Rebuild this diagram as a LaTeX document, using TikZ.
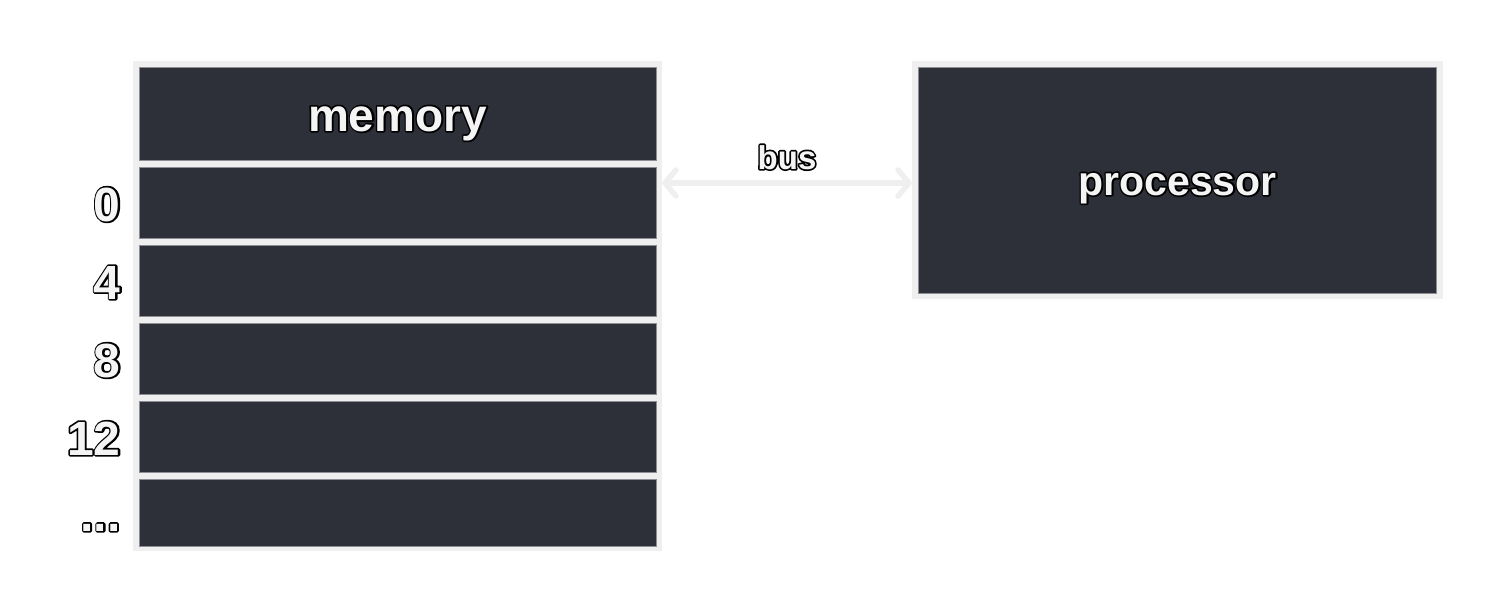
\documentclass[tikz,border=0pt]{standalone}
\usepackage{fontspec}
\setmainfont{Liberation Sans}
\usetikzlibrary{arrows.meta}
\definecolor{cellc}{HTML}{2D3039}
\definecolor{edgec}{HTML}{EFEFEF}
\definecolor{txtc}{HTML}{F4F4F4}
\definecolor{rimc}{HTML}{8C8E94}
\newcommand{\otext}[1]{\rlap{\special{pdf:code q 1 Tr 3.4 w 1 j 0 0 0 RG}#1\special{pdf:code Q}}\textcolor{txtc}{#1}}
\tikzset{
  framebox/.style={fill=edgec, draw=none, inner sep=0pt},
  cellbox/.style={fill=cellc, draw=rimc, line width=0.6pt, inner sep=0pt, minimum width=517pt},
  bigtext/.style={anchor=base, inner sep=0pt},
  addrlabel/.style={anchor=base east, inner sep=0pt, font=\fontsize{48}{50}\selectfont\bfseries},
  busline/.style={draw=edgec, line width=5.5pt, line cap=round, {Straight Barb[length=11pt,width=26pt,round]}-{Straight Barb[length=11pt,width=26pt,round]}}
}
\begin{document}
\begin{tikzpicture}[x=1pt,y=-1pt]
\useasboundingbox (0,0) rectangle (1504,614);
% memory frame
\node[framebox, minimum width=529pt, minimum height=490pt] (memframe) at (397.5,306) {};
\node[cellbox, minimum height=93pt] (head) at (397.5,113.5) {};
\node[cellbox, minimum height=71pt] (row1) at (397.5,202.5) {};
\node[cellbox, minimum height=71pt] (row2) at (397.5,280.5) {};
\node[cellbox, minimum height=71pt] (row3) at (397.5,358.5) {};
\node[cellbox, minimum height=71pt] (row4) at (397.5,436.5) {};
\node[cellbox, minimum height=67pt] (row5) at (397.5,512.5) {};
\node[bigtext, font=\fontsize{46}{50}\selectfont\bfseries] (memlabel) at ([yshift=-17.5pt]head.center) {\otext{memory}};
% address labels
\node[addrlabel] (l0) at ([xshift=-18pt,yshift=-18.5pt]row1.west) {\otext{0}};
\node[addrlabel] (l4) at ([xshift=-18pt,yshift=-18.5pt]row2.west) {\otext{4}};
\node[addrlabel] (l8) at ([xshift=-18pt,yshift=-18.5pt]row3.west) {\otext{8}};
\node[addrlabel] (l12) at ([xshift=-18pt,yshift=-18.5pt]row4.west) {\otext{12}};
\node[addrlabel] (ldots) at ([xshift=-18pt,yshift=-18.5pt]row5.west) {\otext{...}};
% processor
\node[framebox, minimum width=531pt, minimum height=238pt] (procframe) at (1177.5,180) {};
\node[cellbox, minimum width=518pt, minimum height=226pt] (proc) at (1177.5,180) {};
\node[bigtext, font=\fontsize{41}{48}\selectfont\bfseries] (proclabel) at ([yshift=-15pt]proc.center) {\otext{processor}};
% bus
\draw[busline] ([yshift=-3pt]memframe.east |- procframe.west) -- ([yshift=-3pt]procframe.west)
  node[midway, anchor=base, yshift=14pt, inner sep=0pt, font=\fontsize{33}{36}\selectfont\bfseries] (bus) {\otext{bus}};
\end{tikzpicture}
\end{document}
